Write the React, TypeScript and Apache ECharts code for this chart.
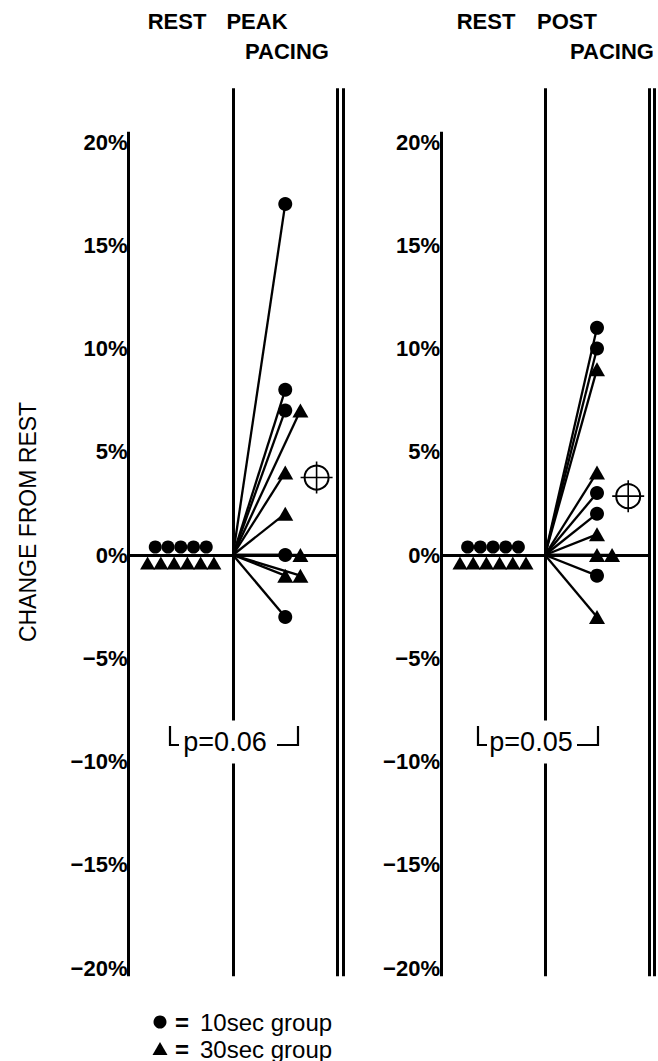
import React, { useEffect, useRef } from "react";
import * as echarts from "echarts";

// ---- data ----
const yTickValues = [-20, -15, -10, -5, 0, 5, 10, 15, 20];
const panelHeaders = [
  ["REST", "PEAK", "PACING"],
  ["REST", "POST", "PACING"],
];
const restCircles = [0, 0, 0, 0, 0];
const restTriangles = [0, 0, 0, 0, 0, 0];
const peakCircles = [17, 8, 7, 0, -3];
const peakTriangles = [7, 4, 2, 0, -1, -1];
const postCircles = [11, 10, 3, 2, -1];
const postTriangles = [9, 4, 1, 0, 0, -3];
const peakMean = 3.75;
const postMean = 2.85;
const pValues = ["p=0.06", "p=0.05"];
const groupNames = ["10sec group", "30sec group"];
const axisTitle = "CHANGE FROM REST";

// ---- layout ----
const FONT = "'Liberation Sans', Arial, Helvetica, sans-serif";
const PX_PER_PCT = 20.65;
const ZERO_Y = 555;
const Y_MAX = 22.6;
const Y_MIN = -20.4;
const AXIS_TOP = 20.5;
const panels = [
  { axisX: 128.5, unit: 104.5, xMax: 2.053 },
  { axisX: 441, unit: 104, xMax: 2.048 },
];
const REST_X = 0.5;
const REST_C_STEP = 0.122;
const REST_T_STEP = 0.127;
const PACE_X = 1.5;
const SLOT_STEP = 0.145;
const MEAN_X = 1.8;

function slotted(circles: number[], triangles: number[]) {
  const seen: Record<string, number> = {};
  const next = (v: number) => {
    const k = String(v);
    const s = seen[k] || 0;
    seen[k] = s + 1;
    return s;
  };
  const c = circles.map((v) => [PACE_X + next(v) * SLOT_STEP, v]);
  const t = triangles.map((v) => [PACE_X + next(v) * SLOT_STEP, v]);
  return { c, t };
}

const fmt = (v: number) => (v < 0 ? "\u2212" + Math.abs(v) : String(v)) + "%";

export default function App() {
  const ref = useRef<HTMLDivElement>(null);
  useEffect(() => {
    if (!ref.current) return;
    const chart = echarts.init(ref.current, undefined, { renderer: "svg" });
    const pacing = [
      { circles: peakCircles, triangles: peakTriangles, mean: peakMean },
      { circles: postCircles, triangles: postTriangles, mean: postMean },
    ];
    const gridTop = ZERO_Y - Y_MAX * PX_PER_PCT;
    const gridH = (Y_MAX - Y_MIN) * PX_PER_PCT;
    const grids = panels.map((p) => ({
      left: p.axisX,
      top: gridTop,
      width: p.xMax * p.unit,
      height: gridH,
      containLabel: false,
      outerBoundsMode: "none",
    }));
    const xAxes = panels.map((p, i) => ({
      type: "value",
      gridIndex: i,
      min: 0,
      max: p.xMax,
      show: false,
    }));
    const yAxes = panels.map((_, i) => ({
      type: "value",
      gridIndex: i,
      min: Y_MIN,
      max: Y_MAX,
      axisLine: { show: false },
      axisTick: { show: false },
      splitLine: { show: false },
      axisLabel: {
        customValues: yTickValues,
        formatter: fmt,
        margin: 1,
        color: "#000",
        fontSize: 22,
        fontWeight: "bold",
        fontFamily: FONT,
      },
    }));
    const series: any[] = [];
    const black = "#000";
    const solid = { color: black, opacity: 1 };
    pacing.forEach((pd, i) => {
      const xMax = panels[i].xMax;
      const { c, t } = slotted(pd.circles, pd.triangles);
      series.push({
        type: "lines",
        coordinateSystem: "cartesian2d",
        xAxisIndex: i,
        yAxisIndex: i,
        silent: true,
        z: 1,
        lineStyle: { color: black, width: 3, opacity: 1 },
        data: [
          { coords: [[0, Y_MIN], [0, AXIS_TOP]] },
          { coords: [[1, Y_MIN], [1, Y_MAX]] },
          { coords: [[2, Y_MIN], [2, Y_MAX]] },
          { coords: [[xMax, Y_MIN], [xMax, Y_MAX]] },
          { coords: [[0, 0], [2, 0]] },
        ],
      });
      series.push({
        type: "lines",
        coordinateSystem: "cartesian2d",
        xAxisIndex: i,
        yAxisIndex: i,
        silent: true,
        z: 2,
        lineStyle: { color: black, width: 2.3, opacity: 1 },
        data: [...c, ...t].map((pt) => ({ coords: [[1, 0], pt] })),
      });
      const restC = restCircles.map((v, k) => [
        REST_X + (k - (restCircles.length - 1) / 2) * REST_C_STEP,
        v,
      ]);
      const restT = restTriangles.map((v, k) => [
        REST_X + (k - (restTriangles.length - 1) / 2) * REST_T_STEP,
        v,
      ]);
      series.push({
        name: groupNames[0],
        type: "scatter",
        xAxisIndex: i,
        yAxisIndex: i,
        symbol: "circle",
        symbolSize: 13,
        symbolOffset: [0, -8],
        itemStyle: solid,
        z: 3,
        data: restC,
      });
      series.push({
        name: groupNames[1],
        type: "scatter",
        xAxisIndex: i,
        yAxisIndex: i,
        symbol: "triangle",
        symbolSize: [15, 13],
        symbolOffset: [0, 8],
        itemStyle: solid,
        z: 3,
        data: restT,
      });
      series.push({
        name: groupNames[0],
        type: "scatter",
        xAxisIndex: i,
        yAxisIndex: i,
        symbol: "circle",
        symbolSize: 14,
        itemStyle: solid,
        z: 3,
        data: c,
      });
      series.push({
        name: groupNames[1],
        type: "scatter",
        xAxisIndex: i,
        yAxisIndex: i,
        symbol: "triangle",
        symbolSize: [16, 14],
        itemStyle: solid,
        z: 3,
        data: t,
      });
      series.push({
        type: "scatter",
        xAxisIndex: i,
        yAxisIndex: i,
        symbol: "circle",
        symbolSize: 24,
        itemStyle: { color: "rgba(0,0,0,0)", borderColor: black, borderWidth: 2, opacity: 1 },
        z: 4,
        silent: true,
        data: [[MEAN_X, pd.mean]],
      });
      series.push({
        type: "scatter",
        xAxisIndex: i,
        yAxisIndex: i,
        symbol: "path://M0,15.2h32v1.6h-32zM15.2,0h1.6v32h-1.6z",
        symbolSize: 32,
        itemStyle: solid,
        z: 4,
        silent: true,
        data: [[MEAN_X, pd.mean]],
      });
    });

    const txt = (text: string, x: number, y: number, font: string, extra: any = {}) => ({
      type: "text",
      x,
      y,
      silent: true,
      z: 10,
      style: {
        text,
        fill: "#000",
        font,
        align: "center",
        verticalAlign: "middle",
        ...extra,
      },
    });
    const headFont = `bold 22px ${FONT}`;
    const headerPos = [
      [[177, 21], [257, 21], [287, 51]],
      [[486, 21], [567, 21], [612, 51]],
    ];
    const graphics: any[] = [];
    panelHeaders.forEach((h, i) => {
      h.forEach((s, k) =>
        graphics.push(txt(s, headerPos[i][k][0], headerPos[i][k][1], headFont))
      );
    });
    const title: any = txt(axisTitle, 28, 522, `23px ${FONT}`);
    title.rotation = Math.PI / 2;
    graphics.push(title);

    const pY = 742;
    const brackets = [
      { l: 170, r: 298, tx: 225 },
      { l: 478, r: 598, tx: 531 },
    ];
    brackets.forEach((b, i) => {
      graphics.push(
        txt(pValues[i], b.tx, pY, `27px ${FONT}`, {
          backgroundColor: "#fff",
          padding: [8, 2, 8, 2],
        })
      );
      graphics.push({
        type: "polyline",
        silent: true,
        z: 11,
        shape: { points: [[b.l, pY - 16], [b.l, pY + 3], [b.l + 9, pY + 3]] },
        style: { stroke: "#000", lineWidth: 2.2, fill: null },
      });
      graphics.push({
        type: "polyline",
        silent: true,
        z: 11,
        shape: { points: [[b.r - 21, pY + 3], [b.r, pY + 3], [b.r, pY - 16]] },
        style: { stroke: "#000", lineWidth: 2.2, fill: null },
      });
    });

    // legend (drawn)
    const legX = 160;
    const legY = [1022, 1049];
    graphics.push({
      type: "circle",
      silent: true,
      shape: { cx: legX, cy: legY[0], r: 6.5 },
      style: { fill: "#000" },
    });
    graphics.push({
      type: "polygon",
      silent: true,
      shape: {
        points: [
          [legX, legY[1] - 7],
          [legX + 7.5, legY[1] + 6],
          [legX - 7.5, legY[1] + 6],
        ],
      },
      style: { fill: "#000" },
    });
    groupNames.forEach((n, i) => {
      graphics.push(txt("=", legX + 22, legY[i], `bold 24px ${FONT}`));
      graphics.push(
        txt(n, legX + 40, legY[i], `24px ${FONT}`, { align: "left" })
      );
    });

    chart.setOption({
      animation: false,
      backgroundColor: "#fff",
      grid: grids,
      xAxis: xAxes,
      yAxis: yAxes,
      series,
      graphic: graphics,
    });
    return () => chart.dispose();
  }, []);
  return (
    <div
      ref={ref}
      style={{ position: "absolute", left: 0, top: 0, width: 658, height: 1061 }}
    />
  );
}
